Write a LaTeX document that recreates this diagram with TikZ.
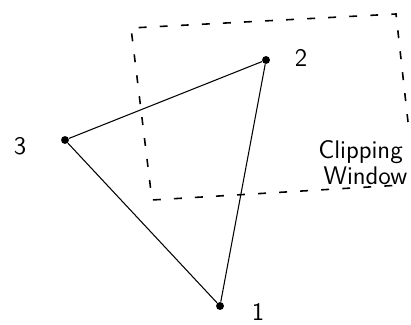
\documentclass[tikz,border=0pt]{standalone}
\usepackage{tikz}
\usetikzlibrary{positioning}

\begin{document}
\begin{tikzpicture}[x=0.02cm,y=-0.02cm,
    vertex/.style={circle,fill,inner sep=0pt,minimum size=4.5pt},
    lbl/.style={font=\sffamily\Large,inner sep=1pt},
    note/.style={font=\sffamily\fontsize{14.5}{12}\selectfont,align=left,inner sep=0pt},
    window/.style={line width=0.9pt,dash pattern=on 4.5pt off 7.5pt}]
  \useasboundingbox (0,0) rectangle (411,324);
  % the triangle
  \node[vertex] (p1) at (220,306) {};
  \node[vertex] (p2) at (266,60) {};
  \node[vertex] (p3) at (65,140) {};
  \draw[line width=0.6pt] (p3) -- (p2) -- (p1) -- (p3);
  \node[lbl] (l1) at (258,312) {1};
  \node[lbl] (l2) at (301,58) {2};
  \node[lbl] (l3) at (20,146) {3};
  % clipping window
  \coordinate (wa) at (408,122);
  \coordinate (wb) at (396,14);
  \coordinate (wc) at (131,28);
  \coordinate (wd) at (152,200);
  \coordinate (we) at (402,185);
  \draw[window] (wa) -- (wb) -- (wc) -- (wd) -- (we);
  \node[note,anchor=north west] (cw) at (318,140)
    {Clipping\\[1pt]\hspace*{3pt}Window};
\end{tikzpicture}
\end{document}
